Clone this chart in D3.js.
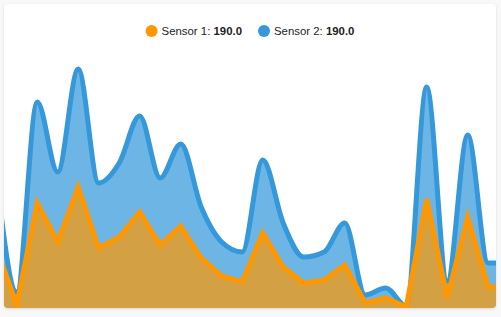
<!DOCTYPE html>
<html>
<head>
<meta charset="utf-8">
<script src="https://cdn.jsdelivr.net/npm/d3@7"></script>
<style>
  body { margin: 0; background: #f8f8f8; font-family: "Liberation Sans", Arial, sans-serif; }
  .card { position: absolute; left: 4px; top: 4px; width: 492px; height: 304px; background: #fff;
          border-radius: 4px; overflow: hidden; box-shadow: 0 1px 3px rgba(0,0,0,0.12); }
  .legend text { font-size: 11.4px; fill: #222; }
</style>
</head>
<body>
<div class="card" id="chart"></div>
<script>
const seriesNames = ['Sensor 1', 'Sensor 2'];
const legendValues = ['190.0', '190.0'];
const colors = ['#ff9800', '#3498db'];
const ticks = d3.range(26);
const sensor1 = [62, 4, 106, 67, 122, 61, 72, 97, 64, 83, 51, 33, 27, 76, 42, 26, 29, 44, 6, 11, 2, 110, 11, 92, 22, 22];
const sensor2 = [135, 17, 207, 137, 240, 126, 146, 193, 131, 165, 102, 67, 57, 149, 86, 52, 57, 86, 14, 21, 3, 222, 28, 174, 46, 46];

const width = 492;
const height = 304;

const svg = d3.select('#chart').append('svg')
  .attr('width', width)
  .attr('height', height);

const xScale = d3.scaleLinear().domain([0, 25]).range([-7.8, -7.8 + 25 * 20.5]);
const yScale = d3.scaleLinear().domain([0, 250]).range([height + 1, height + 1 - 250]);

const area = (vals, curve) => d3.area()
  .x((d, i) => xScale(ticks[i]))
  .y0(yScale(0))
  .y1((d) => yScale(d))
  .curve(curve)(vals);

const line = (vals, curve) => d3.line()
  .x((d, i) => xScale(ticks[i]))
  .y((d) => yScale(d))
  .curve(curve)(vals);

// sensor 2 (smooth) goes underneath
svg.append('path')
  .attr('d', area(sensor2, d3.curveMonotoneX))
  .attr('fill', colors[1])
  .attr('fill-opacity', 0.72);
svg.append('path')
  .attr('d', line(sensor2, d3.curveMonotoneX))
  .attr('fill', 'none')
  .attr('stroke', colors[1])
  .attr('stroke-width', 5)
  .attr('stroke-linejoin', 'round');

svg.append('path')
  .attr('d', area(sensor1, d3.curveLinear))
  .attr('fill', colors[0])
  .attr('fill-opacity', 0.7);
svg.append('path')
  .attr('d', line(sensor1, d3.curveLinear))
  .attr('fill', 'none')
  .attr('stroke', colors[0])
  .attr('stroke-width', 5)
  .attr('stroke-linejoin', 'miter');

// legend, centred
const legend = svg.append('g').attr('class', 'legend');
const items = legend.selectAll('g')
  .data(seriesNames)
  .enter()
  .append('g');

items.append('circle')
  .attr('cx', 0)
  .attr('cy', 27)
  .attr('r', 6)
  .attr('fill', (d, i) => colors[i]);

const txt = items.append('text')
  .attr('x', 10)
  .attr('y', 31.3);
txt.append('tspan').text((d) => d + ': ');
txt.append('tspan').attr('font-weight', 'bold').text((d, i) => legendValues[i]);

let pos = 0;
const offsets = [];
items.each(function(d, i) {
  const w = this.querySelector('text').getComputedTextLength();
  offsets.push(pos);
  pos += 6 + 10 + w + (i < seriesNames.length - 1 ? 16 : 0);
});
const start = (width - pos) / 2 + 6;
items.attr('transform', (d, i) => `translate(${start + offsets[i]}, 0)`);
</script>
</body>
</html>
